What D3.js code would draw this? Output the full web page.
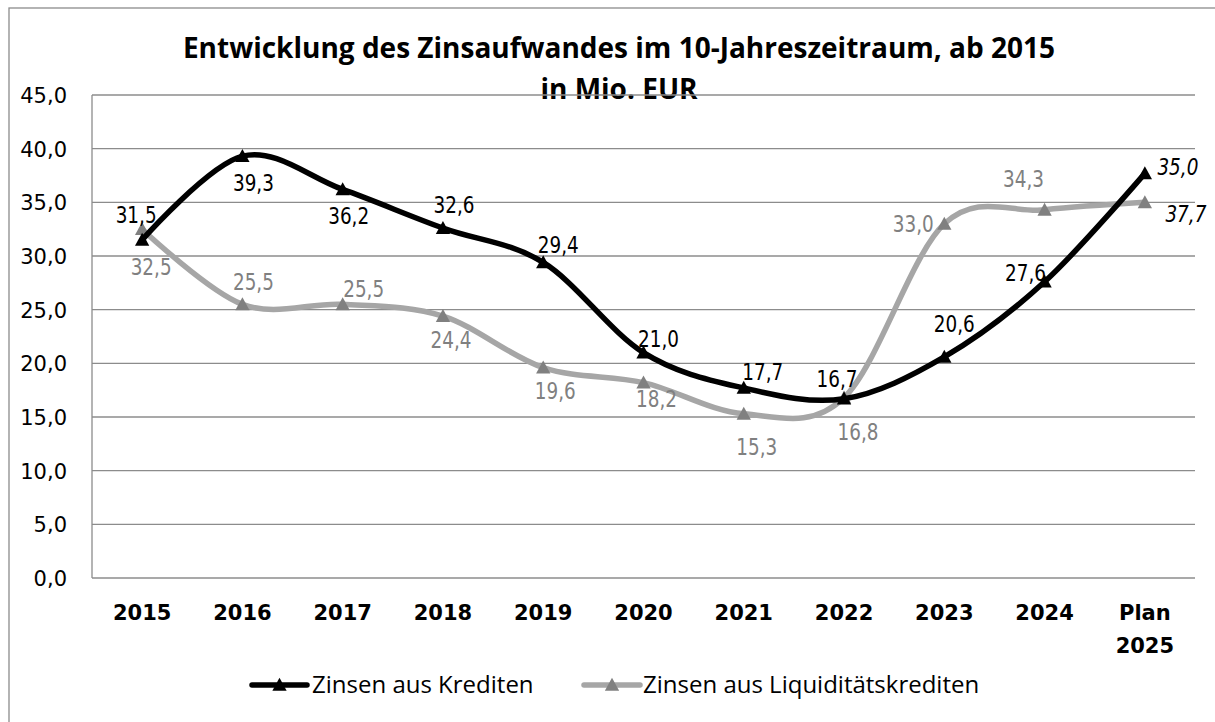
<!DOCTYPE html>
<html>
<head>
<meta charset="utf-8">
<script src="https://cdn.jsdelivr.net/npm/d3@7"></script>
<style>
  body { margin: 0; background: #fff; }
  svg { display: block; }
</style>
</head>
<body>
<div id="chart"></div>
<script>
// --- data ---
var categories = ["2015", "2016", "2017", "2018", "2019", "2020", "2021", "2022", "2023", "2024", "Plan 2025"];
var kredite = [31.5, 39.3, 36.2, 32.6, 29.4, 21.0, 17.7, 16.7, 20.6, 27.6, 37.7];
var liquiditaet = [32.5, 25.5, 25.5, 24.4, 19.6, 18.2, 15.3, 16.8, 33.0, 34.3, 35.0];
// label texts as printed (the last two are swapped in the original)
var krediteLabels = ["31,5", "39,3", "36,2", "32,6", "29,4", "21,0", "17,7", "16,7", "20,6", "27,6", "35,0"];
var liquiditaetLabels = ["32,5", "25,5", "25,5", "24,4", "19,6", "18,2", "15,3", "16,8", "33,0", "34,3", "37,7"];
var yTicks = [0, 5, 10, 15, 20, 25, 30, 35, 40, 45];
var seriesNames = ["Zinsen aus Krediten", "Zinsen aus Liquiditätskrediten"];

// label offsets (layout only)
var kOff = [[-6,-17],[11,35],[6,35],[11,-15],[15,-9],[15,-6],[19,-8],[-7,-12],[10,-25],[-19,-1],[33,2]];
var lOff = [[9,46],[11,-14],[21,-7],[8,32],[12,31],[13,24],[13,41],[14,42],[-31,8],[-21,-23],[41,20]];

var W = 1215, H = 722;
var svg = d3.select("#chart").append("svg").attr("width", W).attr("height", H);
svg.append("rect").attr("width", W).attr("height", H).attr("fill", "#fff");

// chart border (right / bottom edges fall outside the picture)
svg.append("rect")
    .attr("x", 9).attr("y", 8).attr("width", W + 20).attr("height", H + 20)
    .attr("fill", "none").attr("stroke", "#8c8c8c").attr("stroke-width", 1.3);

var x = d3.scaleBand().domain(categories).range([92, 1195]);
var y = d3.scaleLinear().domain([0, 45]).range([578, 95]);
var cx = function(i){ return x(categories[i]) + x.bandwidth() / 2; };
var fmt = function(v){ return d3.format(".1f")(v).replace(".", ","); };

// title
var title = svg.append("text")
    .attr("text-anchor", "middle")
    .attr("font-family", "'Open Sans', 'DejaVu Sans', sans-serif")
    .attr("font-weight", "bold")
    .attr("font-size", 28)
    .attr("fill", "#000");
title.append("tspan").attr("x", 619).attr("y", 58).text("Entwicklung des Zinsaufwandes im 10-Jahreszeitraum, ab 2015");
title.append("tspan").attr("x", 619).attr("y", 99).text("in Mio. EUR");

// gridlines
svg.append("g").selectAll("line").data(yTicks).join("line")
    .attr("x1", 92).attr("x2", 1195)
    .attr("y1", function(d){ return y(d); }).attr("y2", function(d){ return y(d); })
    .attr("stroke", "#8c8c8c").attr("stroke-width", 1.3);
svg.append("line")
    .attr("x1", 92).attr("x2", 92).attr("y1", y(45)).attr("y2", y(0))
    .attr("stroke", "#8c8c8c").attr("stroke-width", 1.3);

// y labels
svg.append("g").selectAll("text").data(yTicks).join("text")
    .attr("x", 67).attr("y", function(d){ return y(d) + 8; })
    .attr("text-anchor", "end")
    .attr("font-family", "'DejaVu Sans', sans-serif")
    .attr("font-size", 21)
    .attr("fill", "#000")
    .text(fmt);

// x labels
var xl = svg.append("g").selectAll("text").data(categories).join("text")
    .attr("text-anchor", "middle")
    .attr("font-family", "'DejaVu Sans', sans-serif")
    .attr("font-weight", "bold")
    .attr("font-size", 21)
    .attr("fill", "#000");
xl.each(function(d, i){
    var parts = d.split(" ");
    var t = d3.select(this);
    parts.forEach(function(p, j){
        t.append("tspan").attr("x", cx(i)).attr("y", 620 + j * 33).text(p);
    });
});

var line = d3.line()
    .x(function(d, i){ return cx(i); })
    .y(function(d){ return y(d); })
    .curve(d3.curveCardinal.tension(0));

function tri(px, py, s) {
    return "M" + px + "," + (py - s * 0.55) + "L" + (px + s * 0.55) + "," + (py + s * 0.45) + "L" + (px - s * 0.55) + "," + (py + s * 0.45) + "Z";
}

var series = [
    { values: liquiditaet, labels: liquiditaetLabels, off: lOff, line: "#a6a6a6", marker: "#808080", text: "#808080" },
    { values: kredite, labels: krediteLabels, off: kOff, line: "#000", marker: "#000", text: "#000" }
];

series.forEach(function(s){
    svg.append("path").datum(s.values)
        .attr("d", line)
        .attr("fill", "none")
        .attr("stroke", s.line)
        .attr("stroke-width", 5.5)
        .attr("stroke-linecap", "round");
    svg.append("g").selectAll("path").data(s.values).join("path")
        .attr("d", function(d, i){ return tri(cx(i), y(d), 13); })
        .attr("fill", s.marker);
});

// data labels: condensed look via horizontal squeeze
series.forEach(function(s){
    svg.append("g").selectAll("text").data(s.values).join("text")
        .attr("transform", function(d, i){
            return "translate(" + (cx(i) + s.off[i][0]) + "," + (y(d) + s.off[i][1]) + ") scale(0.8,1)";
        })
        .attr("text-anchor", "middle")
        .attr("font-family", "'DejaVu Sans', sans-serif")
        .attr("font-size", 23)
        .attr("font-style", function(d, i){ return i === s.values.length - 1 ? "italic" : "normal"; })
        .attr("fill", function(d, i){ return i === s.values.length - 1 ? "#000" : s.text; })
        .text(function(d, i){ return s.labels[i]; });
});

// legend
var legend = [
    { name: seriesNames[0], x1: 252, x2: 307, tx: 312, line: "#000", marker: "#000" },
    { name: seriesNames[1], x1: 584, x2: 640, tx: 643, line: "#a6a6a6", marker: "#808080" }
];
legend.forEach(function(l){
    svg.append("line")
        .attr("x1", l.x1).attr("x2", l.x2).attr("y1", 685).attr("y2", 685)
        .attr("stroke", l.line).attr("stroke-width", 5.5).attr("stroke-linecap", "round");
    svg.append("path").attr("d", tri((l.x1 + l.x2) / 2, 685, 13)).attr("fill", l.marker);
    svg.append("text")
        .attr("x", l.tx).attr("y", 693)
        .attr("font-family", "'Open Sans', 'DejaVu Sans', sans-serif")
        .attr("font-size", 24)
        .attr("fill", "#000")
        .text(l.name);
});
</script>
</body>
</html>
